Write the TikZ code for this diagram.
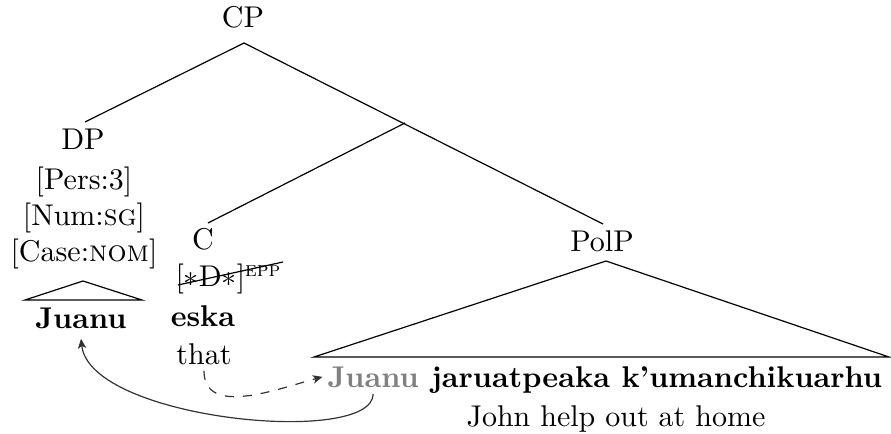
\documentclass[tikz,border=0pt]{standalone}
\usetikzlibrary{arrows.meta}
\begin{document}
\begin{tikzpicture}[x=0.3333pt,y=-0.3333pt,
  every node/.style={inner sep=0pt},
  lbl/.style={anchor=base},
  lblw/.style={anchor=base west},
  mv/.style={black!80,-{Stealth[length=3.2pt,width=2.8pt,inset=0.8pt]}}]
\useasboundingbox (0,0) rectangle (891,434);
% labels
\node[lbl] (CP) at (243,28) {CP};
\node[lbl] (DP) at (83,150) {DP};
\node[lbl] (pers) at (84,190) {[Pers:3]};
\node[lbl] (num) at (84,226) {[Num:\textsc{sg}]};
\node[lbl] (case) at (84,262) {[Case:\textsc{nom}]};
\node[lbl] (juA) at (81,328) {\textbf{Juanu}};
\node[lbl] (C) at (203,250) {C};
\node[lblw] (feat) at (175,287) {[$*$D$*$]\textsuperscript{\textsc{epp}}};
\node[lbl] (eska) at (203,326) {\textbf{eska}};
\node[lbl] (that) at (204,364) {that};
\node[lbl] (PolP) at (602,252) {PolP};
\node[lblw,text=gray] (juB) at (327,387) {\textbf{Juanu}};
\node[lblw] (rest) at ([xshift=3.83pt]juB.base east) {\textbf{jaruatpeaka k’umanchikuarhu}};
\node[lbl] (gloss) at (616,426) {John help out at home};
% branch points
\coordinate (cpb) at (244,43);
\coordinate (bar) at (405,123);
\coordinate (dpt) at (85,122);
\coordinate (ct) at (208,223);
\coordinate (polt) at (603,224);
\draw (dpt) -- (cpb) -- (polt);
\draw (bar) -- (ct);
% triangles
\draw (25,300) -- (83,281) -- (142,300) -- cycle;
\draw (314,357) -- (606,261) -- (889,357) -- cycle;
% strike-through of the feature
\draw (178,285) -- (283,262);
% movement arrows
\draw[mv,dashed] ([yshift=-2pt]that.south) to[out=-90,in=195] ([xshift=-1.5pt]juB.west);
\draw[mv] ([yshift=-2pt]juB.south) .. controls (373,447) and (90,420) .. ([yshift=-3.3pt]juA.south);
\end{tikzpicture}
\end{document}
